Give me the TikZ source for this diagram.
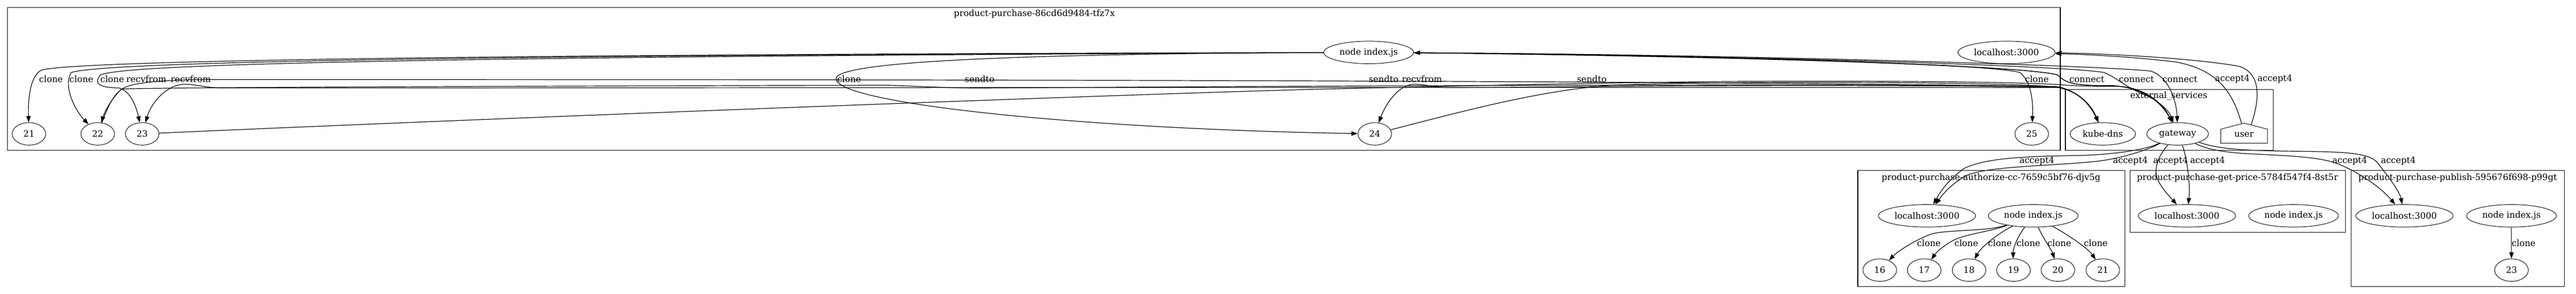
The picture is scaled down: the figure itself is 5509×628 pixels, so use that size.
\documentclass[tikz,border=0pt]{standalone}
\usepackage{fontspec}
\setmainfont{DejaVu Serif}
\usetikzlibrary{shapes.geometric,arrows.meta,calc}
\newcommand{\gvfont}{\fontsize{14pt}{17pt}\selectfont}
\tikzset{
  ell/.style={ellipse, draw, line width=0.8pt, inner sep=0pt, minimum height=36pt, font=\gvfont},
  num/.style={ell, minimum width=54pt},
  lhs/.style={ell, minimum width=156pt},
  idxs/.style={ell, minimum width=144pt},
  edge/.style={draw, line width=1pt, -{Triangle[length=10pt,width=7pt]}},
  lbl/.style={inner sep=0pt, font=\gvfont},
  cluster/.style={draw, line width=1pt},
}
\begin{document}
\begin{tikzpicture}[x=0.75pt, y=-0.75pt]
\useasboundingbox (0,0) rectangle (5509,628);

% clusters
\draw[cluster] (16,16) rectangle (4406,321);
\draw[cluster] (4417,191) rectangle (4862,321);
\draw[cluster] (3973,364) rectangle (4544,612);
\draw[cluster] (4555,364) rectangle (5016,496);
\draw[cluster] (5028,364) rectangle (5484,612);
\node[lbl] (tmain) at (2212,30) {product-purchase-86cd6d9484-tfz7x};
\node[lbl] (text) at (4638,205) {external\_services};
\node[lbl] (tauth) at (4258,380) {product-purchase-authorize-cc-7659c5bf76-djv5g};
\node[lbl] (tgp) at (4785,380) {product-purchase-get-price-5784f547f4-8st5r};
\node[lbl] (tpub) at (5256,380) {product-purchase-publish-595676f698-p99gt};

% main cluster nodes
\node[idxs] (idx) at (2927,112) {node index.js};
\node[lhs] (lh) at (4291,112) {localhost:3000};
\node[num] (m21) at (62,286) {21};
\node[num] (m22) at (209,286) {22};
\node[num] (m23) at (304,286) {23};
\node[num] (m24) at (2940,286) {24};
\node[num] (m25) at (4345,286) {25};

% external services
\node[ell, minimum width=105pt] (kd) at (4497,286) {kube-dns};
\node[ell, minimum width=99pt] (gw) at (4657,286) {gateway};
\node[lbl] (user) at (4799,288) {user};
\draw[line width=0.8pt] ($(user)+(-50,18)$) -- ($(user)+(50,18)$) -- ($(user)+(50,-12)$) -- ($(user)+(0,-25)$) -- ($(user)+(-50,-12)$) -- cycle;
\coordinate (uroofL) at (4794,264);
\coordinate (uroofR) at (4814,267);

% authorize
\node[lhs] (lhA) at (4121,461) {localhost:3000};
\node[idxs] (idxA) at (4348,461) {node index.js};
\node[num] (n16) at (4020,577) {16};
\node[num] (n17) at (4115,577) {17};
\node[num] (n18) at (4211,577) {18};
\node[num] (n19) at (4306,577) {19};
\node[num] (n20) at (4401,577) {20};
\node[num] (n21A) at (4497,577) {21};

% get-price
\node[lhs] (lhG) at (4677,461) {localhost:3000};
\node[idxs] (idxG) at (4905,461) {node index.js};

% publish
\node[lhs] (lhP) at (5142,461) {localhost:3000};
\node[idxs] (idxP) at (5371,461) {node index.js};
\node[num] (p23) at (5371,577) {23};

% clone edges main
\draw[edge] (idx) .. controls (1000,116) and (150,130) .. (88,150) .. controls (62,165) and (60,220) .. (m21);
\draw[edge] (idx) .. controls (1000,118) and (220,132) .. (152,155) .. controls (135,185) and (160,235) .. (m22);
\draw[edge] (idx) .. controls (1000,121) and (270,135) .. (215,160) .. controls (198,180) and (215,187) .. (255,188) .. controls (280,195) and (292,230) .. (m23);
\draw[edge] (idx) .. controls (2200,115) and (1790,130) .. (1788,168) .. controls (1786,220) and (2300,275) .. (m24);
\draw[edge] (idx) .. controls (3600,118) and (4250,135) .. (4320,155) .. controls (4345,175) and (4348,220) .. (m25);

% connect edges
\draw[edge] (idx) .. controls (3700,120) and (4330,140) .. (4400,160) .. controls (4420,180) and (4440,183) .. (4520,183) .. controls (4600,190) and (4630,230) .. (gw);
\draw[edge] (idx) .. controls (3700,118) and (4420,140) .. (4500,155) .. controls (4525,165) and (4545,185) .. (4580,200) .. controls (4620,215) and (4640,240) .. (gw);
\draw[edge] (idx) .. controls (3700,116) and (4500,140) .. (4600,152) .. controls (4640,165) and (4655,220) .. (gw);
\draw[edge] (gw) .. controls (4630,230) and (4600,190) .. (4520,183) .. controls (4440,183) and (4420,180) .. (4400,160) .. controls (4330,140) and (3700,118) .. (idx);

% accept4 user -> localhost
\draw[edge] (uroofL) .. controls (4780,220) and (4760,150) .. (4650,132) .. controls (4550,120) and (4450,116) .. (lh);
\draw[edge] (uroofR) .. controls (4830,220) and (4840,160) .. (4790,142) .. controls (4700,125) and (4500,114) .. (lh);

% sendto / recvfrom
\draw[edge] (kd) .. controls (4475,230) and (4450,195) .. (4400,185) .. controls (3500,170) and (1500,170) .. (460,170) .. controls (330,170) and (275,178) .. (258,192) .. controls (240,210) and (225,235) .. (m22);
\draw[edge] (m22) .. controls (228,235) and (242,200) .. (262,190) .. controls (400,186) and (1200,184) .. (1900,182) .. controls (2000,186) and (2060,189) .. (2120,188) .. controls (3000,182) and (4300,178) .. (4400,186) .. controls (4450,195) and (4475,230) .. (kd);
\draw[edge] (m23) .. controls (1000,255) and (2300,205) .. (2800,191) .. controls (3100,184) and (3400,177) .. (3700,174) .. controls (4100,172) and (4350,176) .. (4420,182) .. controls (4480,186) and (4510,183) .. (4540,185) .. controls (4600,192) and (4630,230) .. (gw);
\draw[edge] (kd) .. controls (4475,230) and (4450,195) .. (4400,187) .. controls (3000,186) and (1000,188) .. (480,188) .. controls (440,188) and (420,180) .. (395,180) .. controls (360,180) and (325,215) .. (m23);
\draw[edge] (kd) .. controls (4475,230) and (4450,195) .. (4400,186) .. controls (3800,178) and (3300,187) .. (3100,187) .. controls (3060,187) and (3050,180) .. (3025,180) .. controls (2990,180) and (2962,225) .. (m24);
\draw[edge] (m24) .. controls (3150,232) and (3300,192) .. (3450,182) .. controls (3700,172) and (4300,175) .. (4400,186) .. controls (4450,195) and (4475,230) .. (kd);

% labels main row
\node[lbl] (l1) at (109,169) {clone};
\node[lbl] (l2) at (174,169) {clone};
\node[lbl] (l3) at (240,169) {clone};
\node[lbl] (l4) at (313,169) {recvfrom};
\node[lbl] (l5) at (408,169) {recvfrom};
\node[lbl] (l6) at (1816,169) {clone};
\node[lbl] (l7) at (2095,169) {sendto};
\node[lbl] (l8) at (2959,169) {sendto};
\node[lbl] (l9) at (3041,169) {recvfrom};
\node[lbl] (l10) at (3404,169) {sendto};
\node[lbl] (l11) at (4356,169) {clone};
\node[lbl] (l12) at (4463,169) {connect};
\node[lbl] (l13) at (4569,169) {connect};
\node[lbl] (l14) at (4662,169) {connect};
\node[lbl] (l15) at (4774,169) {accept4};
\node[lbl] (l16) at (4865,169) {accept4};

% gateway accept4 edges
\draw[edge] (gw) .. controls (4590,320) and (4520,330) .. (4450,332) .. controls (4350,334) and (4250,335) .. (4200,360) .. controls (4165,385) and (4148,412) .. (lhA);
\draw[edge] (gw) .. controls (4590,322) and (4530,340) .. (4480,345) .. controls (4380,355) and (4250,355) .. (4205,375) .. controls (4170,395) and (4155,415) .. (lhA);
\draw[edge] (gw) .. controls (4618,330) and (4603,360) .. (4615,385) .. controls (4625,405) and (4640,420) .. (lhG);
\draw[edge] (gw) .. controls (4675,330) and (4685,390) .. (lhG);
\draw[edge] (gw) .. controls (4720,320) and (4760,325) .. (4800,328) .. controls (4900,333) and (4960,335) .. (5000,350) .. controls (5060,375) and (5100,410) .. (lhP);
\draw[edge] (gw) .. controls (4740,318) and (4800,322) .. (4900,323) .. controls (5000,324) and (5062,325) .. (5082,345) .. controls (5110,380) and (5132,410) .. (lhP);
\node[lbl] (b1) at (4356,344) {accept4};
\node[lbl] (b2) at (4556,344) {accept4};
\node[lbl] (b3) at (4642,344) {accept4};
\node[lbl] (b4) at (4721,344) {accept4};
\node[lbl] (b5) at (5025,344) {accept4};
\node[lbl] (b6) at (5129,344) {accept4};

% authorize clones
\draw[edge] (idxA) .. controls (4250,495) and (4165,490) .. (4130,500) .. controls (4090,515) and (4055,540) .. (n16);
\draw[edge] (idxA) .. controls (4255,495) and (4205,500) .. (4180,512) .. controls (4155,525) and (4140,540) .. (n17);
\draw[edge] (idxA) .. controls (4270,500) and (4235,530) .. (n18);
\draw[edge] (idxA) .. controls (4315,505) and (4305,530) .. (n19);
\draw[edge] (idxA) .. controls (4370,510) and (4388,535) .. (n20);
\draw[edge] (idxA) .. controls (4420,500) and (4465,530) .. (n21A);
\node[lbl] (c1) at (4125,519) {clone};
\node[lbl] (c2) at (4205,519) {clone};
\node[lbl] (c3) at (4277,519) {clone};
\node[lbl] (c4) at (4338,519) {clone};
\node[lbl] (c5) at (4404,519) {clone};
\node[lbl] (c6) at (4482,519) {clone};

% publish clone
\draw[edge] (idxP) -- (p23);
\node[lbl] (c7) at (5397,519) {clone};
\end{tikzpicture}
\end{document}
